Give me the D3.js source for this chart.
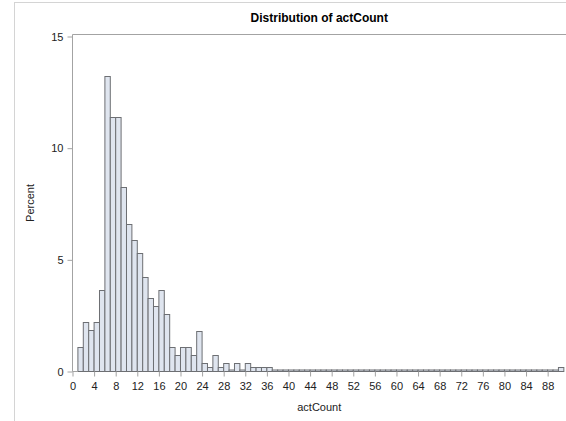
<!DOCTYPE html>
<html><head><meta charset="utf-8">
<script src="https://cdn.jsdelivr.net/npm/d3@7"></script>
<style>body{margin:0;background:#fff}svg{display:block}text{font-family:"Liberation Sans",Arial,sans-serif;fill:#222}</style>
</head><body><svg id="c" width="566" height="421"></svg>
<script>
// bin start values (width 1) and percent per bin
const bins = d3.range(1, 91);
const nonZero = {1:1.10,2:2.20,3:1.84,4:2.20,5:3.67,6:13.21,7:11.38,8:11.38,9:8.26,10:6.61,
  11:5.87,12:5.32,13:4.22,14:3.30,15:2.94,16:3.67,17:2.57,18:1.10,19:0.73,20:1.10,
  21:1.10,22:0.73,23:1.83,24:0.37,25:0.18,26:0.73,27:0.18,28:0.37,30:0.37,32:0.37,
  33:0.18,34:0.18,35:0.18,36:0.18,90:0.18};
const percents = bins.map(b => nonZero[b] || 0);
const xTicks = d3.range(0, 89, 4);
const yTicks = [0, 5, 10, 15];
const title = "Distribution of actCount";
const xLabel = "actCount";
const yLabel = "Percent";

const svg = d3.select("#c");
const L = 72.5, R = 566, T = 34.5, B = 371.5;
const x = d3.scaleLinear().domain([0, 91.4]).range([L, R]);
const y = d3.scaleLinear().domain([0, 15.09]).range([B, T]);

// outer frame
svg.append("rect").attr("x",14.5).attr("y",2.5).attr("width",600).attr("height",500)
  .attr("fill","none").attr("stroke","#d4d4d4");

// title
svg.append("text").attr("x",(L+R)/2).attr("y",22).attr("text-anchor","middle")
  .style("font-size","12px").style("font-weight","bold").style("fill","#000").text(title);

// bars
const topOf = i => Math.min(Math.round(y(percents[i])) + 0.5, B - 1.5);
svg.append("g").selectAll("rect").data(bins).join("rect")
  .attr("x", d => x(d))
  .attr("y", (d,i) => topOf(i))
  .attr("width", d => x(d+1) - x(d))
  .attr("height", (d,i) => B - topOf(i))
  .attr("fill", "#dfe5ef").attr("stroke", "#6d6f73").attr("stroke-width", 1);

// plot frame
const ax = "#a3a3a3";
svg.append("line").attr("x1",L).attr("x2",R).attr("y1",T).attr("y2",T).attr("stroke",ax);
svg.append("line").attr("x1",L).attr("x2",L).attr("y1",T).attr("y2",B).attr("stroke",ax);
svg.append("line").attr("x1",L).attr("x2",x(1)).attr("y1",B).attr("y2",B).attr("stroke",ax);

// x axis
const xa = svg.append("g").attr("transform",`translate(0,${B})`)
  .call(d3.axisBottom(x).tickValues(xTicks).tickSize(5).tickPadding(6));
xa.select(".domain").remove();
xa.selectAll("line").attr("stroke",ax);
xa.selectAll("text").style("font-size","11px").attr("fill","#222");

// y axis
const ya = svg.append("g").attr("transform",`translate(${L},0)`)
  .call(d3.axisLeft(y).tickValues(yTicks).tickSize(5).tickPadding(4));
ya.select(".domain").remove();
ya.selectAll("line").attr("stroke",ax);
ya.selectAll("text").style("font-size","11px").attr("fill","#222");

// axis labels
svg.append("text").attr("x",(L+R)/2 + 0).attr("y",411).attr("text-anchor","middle")
  .style("font-size","11px").text(xLabel);
svg.append("text").attr("transform",`translate(34,${(T+B)/2}) rotate(-90)`).attr("text-anchor","middle")
  .style("font-size","11px").text(yLabel);
</script></body></html>
